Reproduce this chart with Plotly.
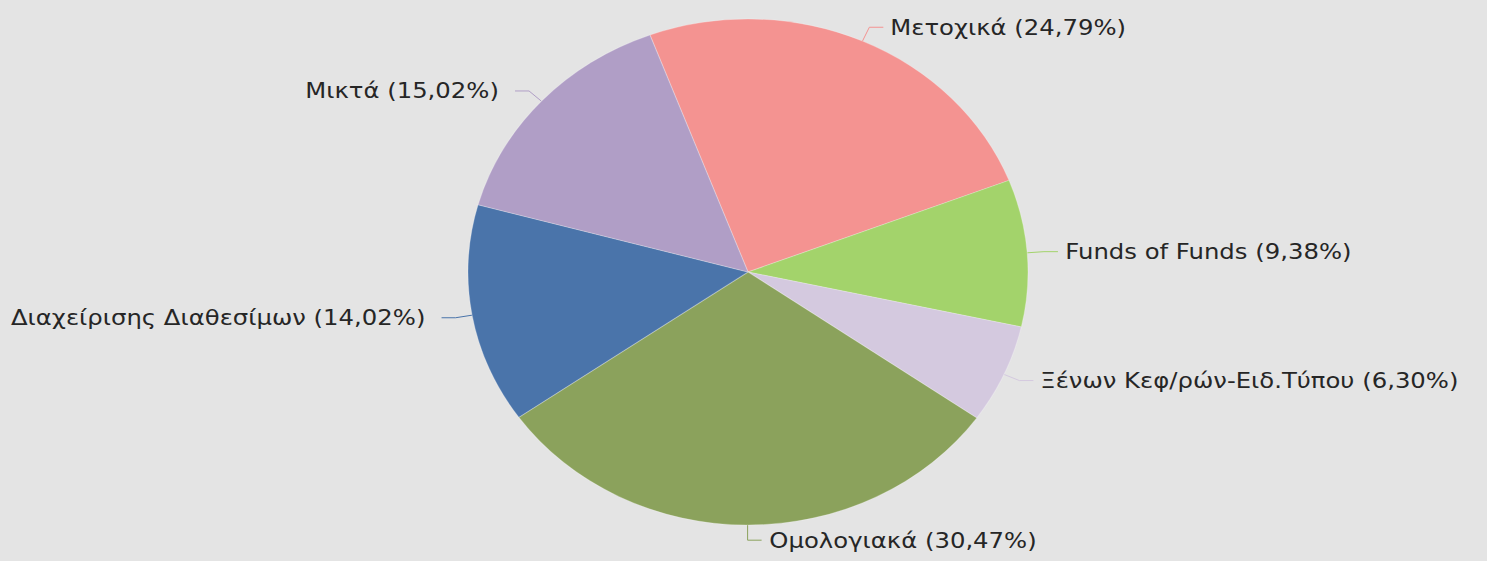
import math
import json
import plotly.graph_objects as go

# ---- data ----
categories = ["Μετοχικά", "Funds of Funds", "Ξένων Κεφ/ρών-Ειδ.Τύπου",
              "Ομολογιακά", "Διαχείρισης Διαθεσίμων", "Μικτά"]
shares = [24.79, 9.38, 6.30, 30.47, 14.02, 15.02]

# ---- style ----
colors = ["#F49391", "#A3D36B", "#D4C9DF", "#8BA25C", "#4A74AA", "#B09EC6"]
W, H = 1487, 561
CX, CY = 748, 272          # pie centre (px)
RY, RX = 253, 280          # vertical / horizontal radius (px)
START = -20.5              # start angle of first slice (deg, clockwise from 12 o'clock)
BG = "#E4E4E4"
FONT = "DejaVu Sans"
FSIZE = 22
GAP_RIGHT, GAP_LEFT = 5, 14

def fmt(v):
    return f"{v:.2f}".replace(".", ",")

fig = go.Figure()

# pie (circular radius RY, stretched horizontally afterwards to RX)
dx0 = (CX - RY) / W
dx1 = (CX + RY) / W
dy0 = 1 - (CY + RY) / H
dy1 = 1 - (CY - RY) / H
fig.add_trace(go.Pie(
    labels=categories, values=shares, sort=False, direction="clockwise",
    rotation=START, textinfo="none", hoverinfo="skip",
    marker=dict(colors=colors, line=dict(color="rgba(255,255,255,0.25)", width=1)),
    domain=dict(x=[dx0, dx1], y=[dy0, dy1]), showlegend=False,
))

# leader lines and labels, computed from the slice angles
total = sum(shares)
acc = 0.0
annotations = []
anchors = []
for name, v, c in zip(categories, shares, colors):
    mid = math.radians(START + (acc + v / 2) / total * 360)
    acc += v
    sx, sy = math.sin(mid), -math.cos(mid)
    ex, ey = CX + RX * sx, CY + RY * sy
    bx, by = CX + RX * 1.06 * sx, CY + RY * 1.06 * sy
    side = 1 if sx > -0.05 else -1
    endx = bx + side * 14
    fig.add_trace(go.Scatter(
        x=[ex, bx, endx], y=[ey, by, by], mode="lines",
        line=dict(color=c, width=1), hoverinfo="skip", showlegend=False,
    ))
    ax = endx + (GAP_RIGHT if side > 0 else -GAP_LEFT)
    anchors.append(ax)
    annotations.append(dict(
        x=ax, y=by, xref="x", yref="y", showarrow=False,
        text=f"{name} ({fmt(v)}%)", xanchor="left" if side > 0 else "right",
        yanchor="middle", font=dict(family=FONT, size=FSIZE, color="#262626"),
    ))

fig.update_layout(
    width=W, height=H, margin=dict(l=0, r=0, t=0, b=0),
    paper_bgcolor=BG, plot_bgcolor=BG,
    xaxis=dict(range=[0, W], visible=False, fixedrange=True, domain=[0, 1]),
    yaxis=dict(range=[H, 0], visible=False, fixedrange=True, domain=[0, 1]),
    annotations=annotations, hovermode=False,
)

stretch = RX / RY
post = """
var gd = document.getElementById('{plot_id}');
var anchors = %s;
var s = %f, cx = %f;
function stretchAll(){
  var pl = gd.querySelector('.pielayer');
  if (pl) { pl.setAttribute('transform', 'translate(' + cx + ',0) scale(' + s + ',1) translate(' + (-cx) + ',0)'); }
  var anns = gd.querySelectorAll('.annotation');
  anns.forEach(function(a, i){
    var x = anchors[i];
    if (x !== undefined) { a.setAttribute('transform', 'translate(' + x + ',0) scale(' + s + ',1) translate(' + (-x) + ',0)'); }
  });
}
stretchAll();
if (gd.on) { gd.on('plotly_afterplot', stretchAll); }
setTimeout(stretchAll, 50);
""" % (json.dumps(anchors), stretch, CX)

fig.write_html("out.html", post_script=post, config={"displayModeBar": False, "staticPlot": True})
